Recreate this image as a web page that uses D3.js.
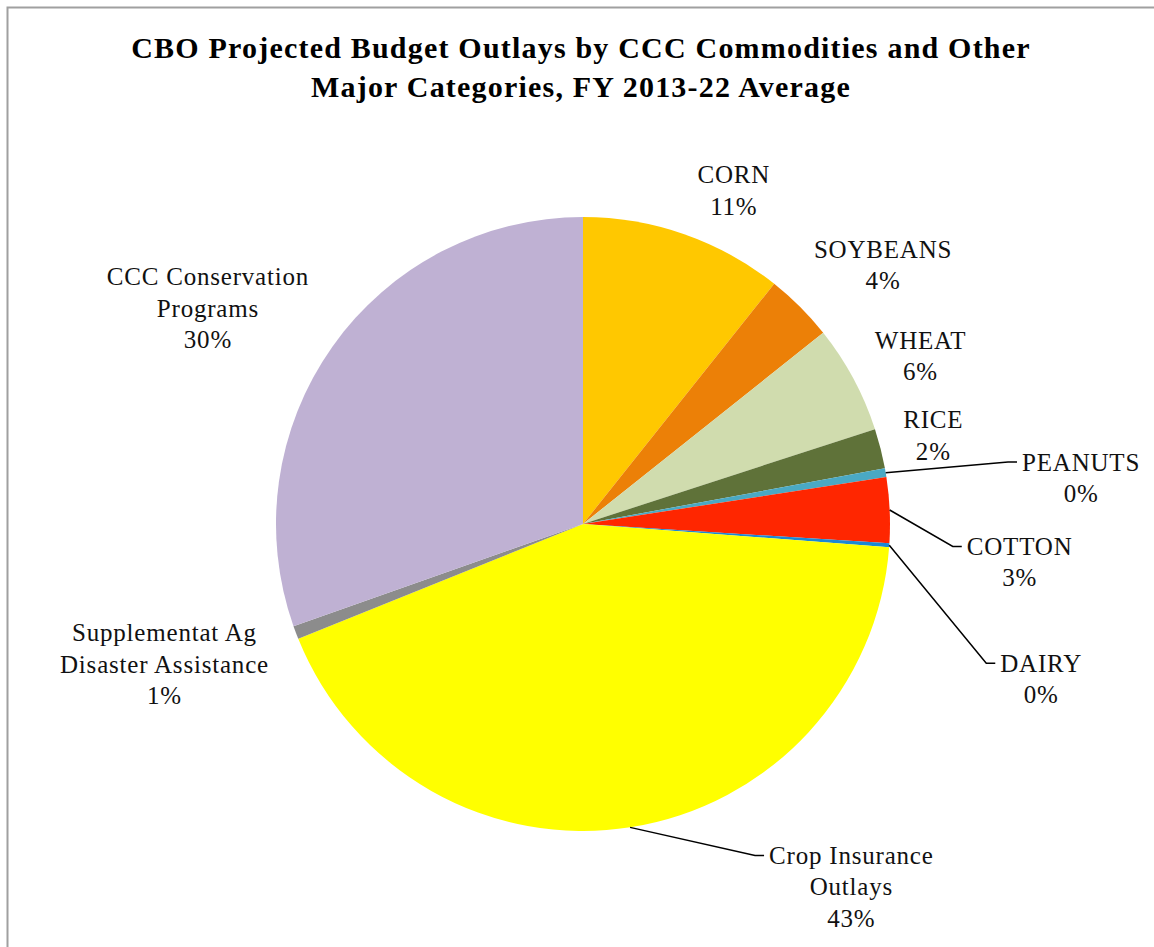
<!DOCTYPE html>
<html>
<head>
<meta charset="utf-8">
<script src="https://cdn.jsdelivr.net/npm/d3@7"></script>
<style>
  body { margin: 0; background: #fff; }
  text { font-family: 'Liberation Serif', serif; }
</style>
</head>
<body>
<svg id="chart" width="1154" height="947"></svg>
<script>
(function () {
  var width = 1154; var height = 947

  var categories = ['CORN', 'SOYBEANS', 'WHEAT', 'RICE', 'PEANUTS', 'COTTON', 'DAIRY',
    'Crop Insurance Outlays', 'Supplementat Ag Disaster Assistance', 'CCC Conservation Programs']
  var labelLines = [['CORN'], ['SOYBEANS'], ['WHEAT'], ['RICE'], ['PEANUTS'], ['COTTON'], ['DAIRY'],
    ['Crop Insurance', 'Outlays'], ['Supplementat Ag', 'Disaster Assistance'], ['CCC Conservation', 'Programs']]
  // share of outlays, percent
  var values = [10.7, 3.6, 5.7, 2.1, 0.45, 3.45, 0.2, 42.7, 0.7, 30.4]
  var colors = ['#ffc800', '#ec8007', '#d0dcae', '#5f7239', '#4aa9c4', '#ff2600', '#1b88d4',
    '#ffff00', '#8c8c8c', '#bfb1d3']
  // label nudges from the default outside position
  var nudge = [[36, -5], [54, -13], [31, -3], [13, -3], [155, 12], [89, 54], [111, 131],
    [215, 19], [-93, 17], [-91, -15]]
  var leader = [false, false, false, false, true, true, true, true, false, false]

  var svg = d3.select('#chart')

  svg.append('rect')
    .attr('x', 7.5).attr('y', 7.5)
    .attr('width', width + 20).attr('height', height + 20)
    .attr('fill', 'none')
    .attr('stroke', '#a0a0a0')
    .attr('stroke-width', 2)

  var title = svg.append('text')
    .attr('text-anchor', 'middle')
    .attr('font-weight', 'bold')
    .attr('font-size', 30)
    .attr('letter-spacing', 1.2)
  title.append('tspan').attr('x', 581).attr('y', 58)
    .text('CBO Projected Budget Outlays by CCC Commodities and Other')
  title.append('tspan').attr('x', 581).attr('y', 97)
    .text('Major Categories, FY 2013-22 Average')

  var cx = 583; var cy = 524; var radius = 307
  var total = d3.sum(values)

  var pie = d3.pie().sort(null).value(d => d)
  var arcs = pie(values)

  var arc = d3.arc().innerRadius(0).outerRadius(radius)

  var g = svg.append('g').attr('transform', `translate(${cx},${cy})`)

  g.selectAll('path')
    .data(arcs)
    .enter().append('path')
    .attr('d', arc)
    .attr('fill', (d, i) => colors[i])

  var lineH = 31.5
  arcs.forEach((d, i) => {
    var mid = (d.startAngle + d.endAngle) / 2
    var lx = 348 * Math.sin(mid) + nudge[i][0]
    var ly = -348 * Math.cos(mid) + nudge[i][1]
    var lines = labelLines[i].concat([Math.round(values[i] / total * 100) + '%'])
    var t = g.append('text')
      .attr('text-anchor', 'middle')
      .attr('font-size', 25)
      .attr('letter-spacing', 0.8)
      .attr('fill', '#111')
    lines.forEach((s, k) => {
      t.append('tspan')
        .attr('x', lx)
        .attr('y', ly + (k - (lines.length - 1) / 2) * lineH + 8.5)
        .text(s)
    })
    if (leader[i]) {
      var w = t.select('tspan').node().getComputedTextLength()
      var left = lx - w / 2
      var y0 = ly - (lines.length - 1) / 2 * lineH
      var px = radius * Math.sin(mid); var py = -radius * Math.cos(mid)
      g.append('polyline')
        .attr('points', [[px, py], [left - 14, y0], [left - 5, y0]].map(p => p.join(',')).join(' '))
        .attr('fill', 'none')
        .attr('stroke', '#000')
        .attr('stroke-width', 1.5)
    }
  })
})()
</script>
</body>
</html>
